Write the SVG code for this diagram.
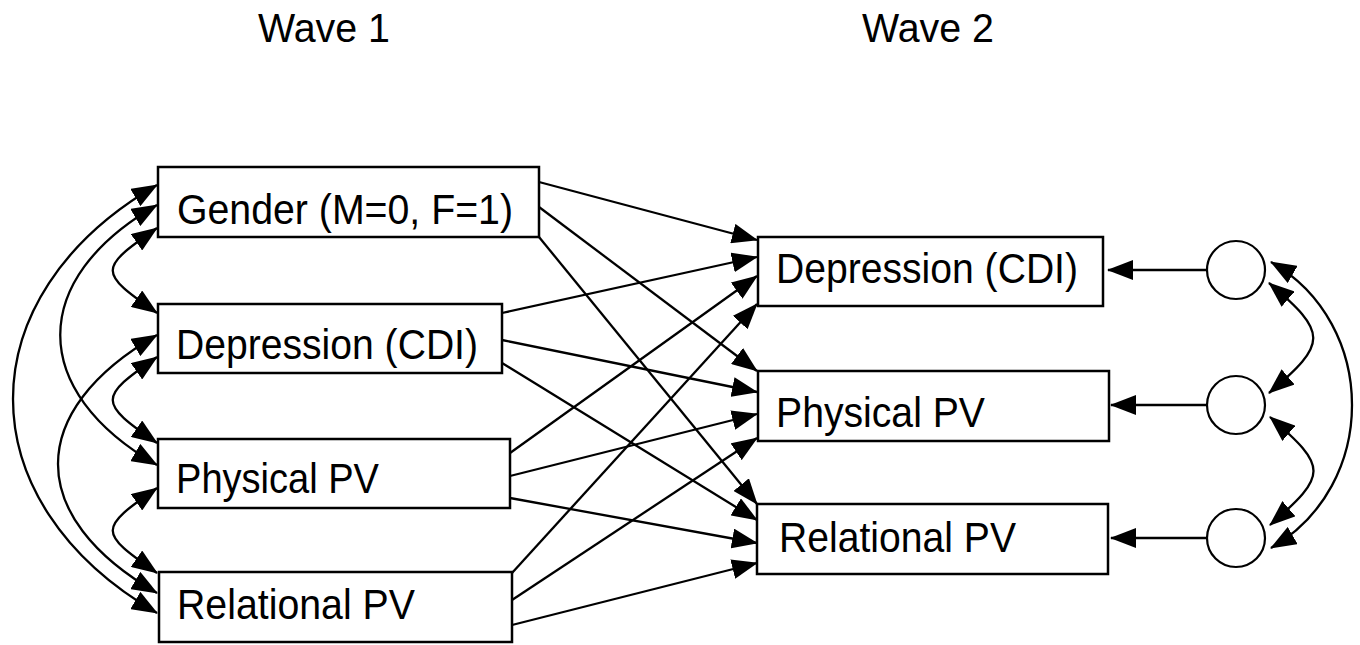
<svg xmlns="http://www.w3.org/2000/svg" width="1360" height="645" viewBox="0 0 1360 645">
<style>
.box{fill:#fff;stroke:#000;stroke-width:2.5}
.circ{fill:#fff;stroke:#000;stroke-width:2.2}
.lbl{font-family:"Liberation Sans",Arial,sans-serif;font-size:43px;fill:#000}
.hdr{font-family:"Liberation Sans",Arial,sans-serif;font-size:40px;fill:#000}
.ln{fill:none;stroke:#000;stroke-width:2.3;marker-end:url(#ah)}
.cv{fill:none;stroke:#000;stroke-width:2.3;marker-start:url(#ah);marker-end:url(#ah)}
</style>
<defs>
<marker id="ah" markerUnits="userSpaceOnUse" markerWidth="26" markerHeight="20" viewBox="0 0 26 20" refX="25" refY="10" orient="auto-start-reverse">
<path d="M0,0 L26,10 L0,20 z" fill="#000"/>
</marker>
</defs>
<rect width="1360" height="645" fill="#fff"/>
<g id="headers">
<text class="hdr" x="258" y="42" textLength="132" lengthAdjust="spacingAndGlyphs">Wave 1</text>
<text class="hdr" x="862" y="42" textLength="132" lengthAdjust="spacingAndGlyphs">Wave 2</text>
</g>
<g id="w1-gender"><rect class="box" x="158" y="167" width="381" height="70"/><text class="lbl" x="177" y="224" textLength="336" lengthAdjust="spacingAndGlyphs">Gender (M=0, F=1)</text></g>
<g id="w1-depression"><rect class="box" x="158" y="304" width="344" height="69"/><text class="lbl" x="176" y="359" textLength="302" lengthAdjust="spacingAndGlyphs">Depression (CDI)</text></g>
<g id="w1-physical"><rect class="box" x="158" y="439" width="352" height="69"/><text class="lbl" x="176" y="493" textLength="203" lengthAdjust="spacingAndGlyphs">Physical PV</text></g>
<g id="w1-relational"><rect class="box" x="159" y="572" width="353" height="70"/><text class="lbl" x="177" y="619" textLength="238" lengthAdjust="spacingAndGlyphs">Relational PV</text></g>
<g id="w2-depression"><rect class="box" x="758" y="237" width="345" height="69"/><text class="lbl" x="776" y="283" textLength="302" lengthAdjust="spacingAndGlyphs">Depression (CDI)</text></g>
<g id="w2-physical"><rect class="box" x="758" y="371" width="351" height="70"/><text class="lbl" x="776" y="427" textLength="209" lengthAdjust="spacingAndGlyphs">Physical PV</text></g>
<g id="w2-relational"><rect class="box" x="757" y="504" width="351" height="70"/><text class="lbl" x="779" y="552" textLength="237" lengthAdjust="spacingAndGlyphs">Relational PV</text></g>
<g id="e1"><circle class="circ" cx="1236" cy="270" r="29"/></g>
<g id="e2"><circle class="circ" cx="1236" cy="405" r="29"/></g>
<g id="e3"><circle class="circ" cx="1236" cy="538" r="29"/></g>
<g id="connectors">
<line class="ln" x1="539" y1="182" x2="757" y2="240"/>
<line class="ln" x1="539" y1="207" x2="757" y2="371"/>
<line class="ln" x1="539" y1="237" x2="757" y2="504"/>
<line class="ln" x1="502" y1="313" x2="757" y2="257"/>
<line class="ln" x1="502" y1="340" x2="757" y2="392"/>
<line class="ln" x1="502" y1="363" x2="757" y2="520"/>
<line class="ln" x1="510" y1="453" x2="757" y2="276"/>
<line class="ln" x1="510" y1="476" x2="757" y2="414"/>
<line class="ln" x1="510" y1="498" x2="757" y2="543"/>
<line class="ln" x1="512" y1="573" x2="757" y2="304"/>
<line class="ln" x1="512" y1="600" x2="757" y2="438"/>
<line class="ln" x1="512" y1="625" x2="757" y2="563"/>
<line class="ln" x1="1207" y1="270" x2="1108" y2="270"/>
<line class="ln" x1="1207" y1="405" x2="1111" y2="405"/>
<line class="ln" x1="1207" y1="538" x2="1111" y2="538"/>
<path class="cv" d="M157,185 C -35,296 -35,502 157,613"/>
<path class="cv" d="M157,205 C 28,279 28,391 157,465"/>
<path class="cv" d="M157,228 C 98,269 98,272 157,313"/>
<path class="cv" d="M157,335 C 25,411 25,517 157,593"/>
<path class="cv" d="M157,357 C 98,398 98,402 157,443"/>
<path class="cv" d="M157,488 C 98,529 98,532 157,573"/>
<path class="cv" d="M1269,283 C 1328,333 1328,343 1269,393"/>
<path class="cv" d="M1270,417 C 1328,467 1328,475 1270,525"/>
<path class="cv" d="M1271,262 C 1379,324 1379,486 1271,548"/>
</g>
</svg>
